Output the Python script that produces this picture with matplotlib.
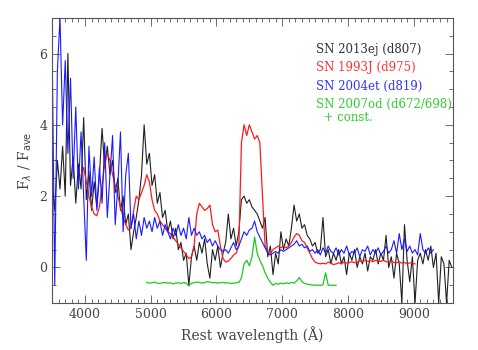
import numpy as np
import matplotlib
matplotlib.use("Agg")
import matplotlib.pyplot as plt
from matplotlib.ticker import MultipleLocator

plt.rcParams['font.family'] = ['DejaVu Serif']

# SN 2013ej (d807), 40 A sampling from 3500 A
black_start = 3500
black_flux = [2.4, 1.6, 3.0, 2.2, 3.4, 2.0, 6.0, 2.3, 3.1, 1.8,
              2.9, 2.2, 4.2, 1.9, 2.7, 1.6, 2.4, 1.7, 2.6, 3.9,
              2.8, 3.4, 2.6, 3.0, 2.1, 2.5, 1.6, 2.0, 1.2, 1.5,
              0.5, 1.0, 1.4, 1.9, 2.6, 4.0, 2.9, 3.2, 2.3, 2.6,
              1.8, 2.1, 1.4, 1.6, 1.0, 1.3, 0.8, 1.1, 0.5, 0.7,
              0.2, 0.4, -0.5, 0.3, 0.6, 0.2, 0.7, 0.4, 0.8, 0.1,
              -0.3, 0.5, 0.2, 0.6, 0.0, 0.4, 0.7, 1.5, 0.8, 1.1,
              0.6, 1.0, 1.9, 2.0, 1.8, 1.9, 1.7, 1.6, 1.5, 1.3,
              1.1, 1.4, 0.3, 0.6, -0.2, 0.4, 0.1, 1.0, 0.5, 0.8,
              0.6, 1.1, 1.75, 1.3, 1.5, 1.1, 1.2, 0.9, 0.8, 0.6,
              0.7, 0.4, 0.5, 1.4, 0.3, 0.5, 0.1, 0.4, 0.2, 0.5,
              0.1, 0.3, -0.2, 0.4, 0.2, 0.5, 0.0, 0.3, 0.1, 0.4,
              -0.1, 0.3, 0.2, 0.5, 0.1, 0.4, 0.2, 0.9, 0.0, 0.3,
              -0.3, 0.4, 0.1, -1.0, 1.2, 0.2, -0.4, 0.3, -1.0, 0.2,
              0.4, 0.1, 0.5, 0.2, 0.6, 0.0, 0.4, -1.0, 0.3, 0.1,
              -1.0, 0.2, 0.0]

# SN 1993J (d975), 40 A sampling from 3940 A
red_start = 3940
red_flux = [2.6, 2.8, 2.4, 2.0, 1.7, 1.5, 1.45, 1.7, 2.3, 2.9,
            3.2, 3.0, 2.6, 2.3, 2.0, 1.7, 1.4, 1.2, 1.05, 1.1,
            1.6, 2.0, 1.9, 2.1, 2.3, 2.6, 2.4, 1.9, 1.6, 1.5,
            1.3, 1.2, 1.1, 1.0, 0.95, 0.85, 0.75, 0.65, 0.55, 0.45,
            0.35, 0.25, 0.3, 0.6, 1.5, 1.8, 1.7, 1.6, 1.65, 1.75,
            1.2, 1.0, 1.05, 0.6, 0.25, 0.15, 0.18, 0.25, 0.35, 0.4,
            0.6, 3.5, 4.0, 3.7, 4.0, 3.8, 3.6, 3.7, 3.5, 2.0,
            0.6, 0.45, 0.4, 0.5, 0.55, 0.6, 0.55, 0.6, 0.55, 0.6,
            0.7, 0.85, 0.95, 0.9, 0.75, 0.7, 0.55, 0.4, 0.25, 0.15,
            0.12, 0.1, 0.12, 0.1, 0.15, 0.12, 0.08, 0.1, 0.13, 0.1,
            0.15, 0.12, 0.14, 0.16, 0.13, 0.15, 0.18, 0.16, 0.2, 0.17,
            0.19, 0.16, 0.2, 0.18, 0.17, 0.2, 0.16, 0.15, 0.18, 0.14,
            0.13, 0.16, 0.12, 0.14, 0.1, 0.13, 0.12, 0.1]

# SN 2004et (d819), 40 A sampling from 3500 A
blue_start = 3500
blue_flux = [6.3, -0.5, 5.5, 7.0, 4.0, 5.8, 3.2, 5.3, 2.5, 4.5,
             2.2, 3.8, 2.0, 0.2, 3.4, 2.0, 3.1, 1.6, 2.8, 1.8,
             3.5, 1.4, 2.6, 3.7, 1.2, 2.3, 3.8, 1.0, 2.6, 3.2,
             1.1, 1.5, 0.8, 1.3, 0.9, 1.4, 1.1, 1.3, 1.0, 1.4,
             1.1, 1.3, 0.9, 1.2, 1.0, 0.8, 1.1, 0.9, 1.2, 0.9,
             1.1, 0.8, 1.4, 0.9, 1.1, 0.9, 1.0, 0.8, 0.9, 0.7,
             0.8, 0.6, 0.75, 0.6, 0.5, 0.45, 0.5, 0.4, 0.55, 0.7,
             0.5, 0.6, 0.8, 1.0, 0.9, 1.05, 1.1, 1.3, 1.0, 0.85,
             0.7, 0.55, 0.4, 0.35, 0.4, 0.45, 0.4, 0.5, 0.45, 0.5,
             0.55, 0.6, 0.65, 0.75, 0.6, 0.65, 0.55, 0.6, 0.45, 0.5,
             0.4, 0.5, 0.35, 0.55, 0.4, 0.6, 0.45, 0.4, 0.55, 0.35,
             0.5, 0.4, 0.6, 0.35, 0.45, 0.4, 0.55, 0.3, 0.5, 0.45,
             0.6, 0.35, 0.5, 0.4, 0.55, 0.35, 0.45, 0.6, 0.4, 0.5,
             0.75, 0.4, 0.95, 0.5, 0.8, 0.45, 0.6, 0.4, 0.5, 0.35,
             0.95, 0.5, 0.4, 0.55, 0.4, 0.5]

# SN 2007od (d672/698) + const., 40 A sampling from 4940 A
green_start = 4940
green_flux = [-0.42, -0.44, -0.43, -0.41, -0.44, -0.45, -0.43, -0.42, -0.44, -0.43,
              -0.46, -0.44, -0.43, -0.45, -0.42, -0.44, -0.52, -0.44, -0.43, -0.41,
              -0.42, -0.44, -0.42, -0.40, -0.41, -0.43, -0.42, -0.44, -0.43, -0.42,
              -0.44, -0.43, -0.45, -0.44, -0.43, -0.42, -0.3, 0.1, 0.2, 0.05,
              0.3, 0.85, 0.4, 0.2, 0.05, -0.15, -0.3, -0.42, -0.5, -0.45,
              -0.47, -0.44, -0.46, -0.43, -0.45, -0.42, -0.44, -0.38, -0.28, -0.4,
              -0.45, -0.47, -0.48, -0.5, -0.49, -0.5, -0.5, -0.49, -0.15, -0.5,
              -0.5, -0.5, -0.5]

labels = ['SN 2013ej (d807)', 'SN 1993J (d975)', 'SN 2004et (d819)',
          'SN 2007od (d672/698)', '  + const.']


def wave(start, flux):
    return np.arange(len(flux)) * 40 + start


fig = plt.figure(figsize=(4.78, 3.5), dpi=100)
ax = fig.add_axes([0.109, 0.134, 0.839, 0.815])

ax.plot(wave(black_start, black_flux), black_flux, color='#202020', lw=0.8)
ax.plot(wave(red_start, red_flux), red_flux, color='#ff1a1a', lw=0.9)
ax.plot(wave(blue_start, blue_flux), blue_flux, color='#1a1aff', lw=0.8)
ax.plot(wave(green_start, green_flux), green_flux, color='#1ec81e', lw=0.9)

ax.set_xlim(3500, 9600)
ax.set_ylim(-1, 7)
ax.xaxis.set_major_locator(MultipleLocator(1000))
ax.xaxis.set_minor_locator(MultipleLocator(100))
ax.yaxis.set_major_locator(MultipleLocator(2))
ax.yaxis.set_minor_locator(MultipleLocator(0.5))
ax.tick_params(which='both', direction='in', top=True, right=True,
               color='#555555', labelcolor='#444444', labelsize=9)
ax.tick_params(which='major', length=6, width=0.6)
ax.tick_params(which='minor', length=3, width=0.6)
for s in ax.spines.values():
    s.set_color('#555555')
    s.set_linewidth(0.8)

ax.set_xlabel('Rest wavelength (Å)', color='#444444', fontsize=10)
ax.set_ylabel(r'F$_\lambda$ / F$_{\rm ave}$', color='#444444', fontsize=10)

txt_colors = ['#333333', '#ff3333', '#3333ff', '#33cc33', '#33cc33']
txt_y = [0.888, 0.825, 0.761, 0.698, 0.649]
for lab, c, y in zip(labels, txt_colors, txt_y):
    ax.text(0.658, y, lab, color=c, fontsize=8.5, transform=ax.transAxes,
            va='center', ha='left')

fig.savefig('out.png', dpi=100)
